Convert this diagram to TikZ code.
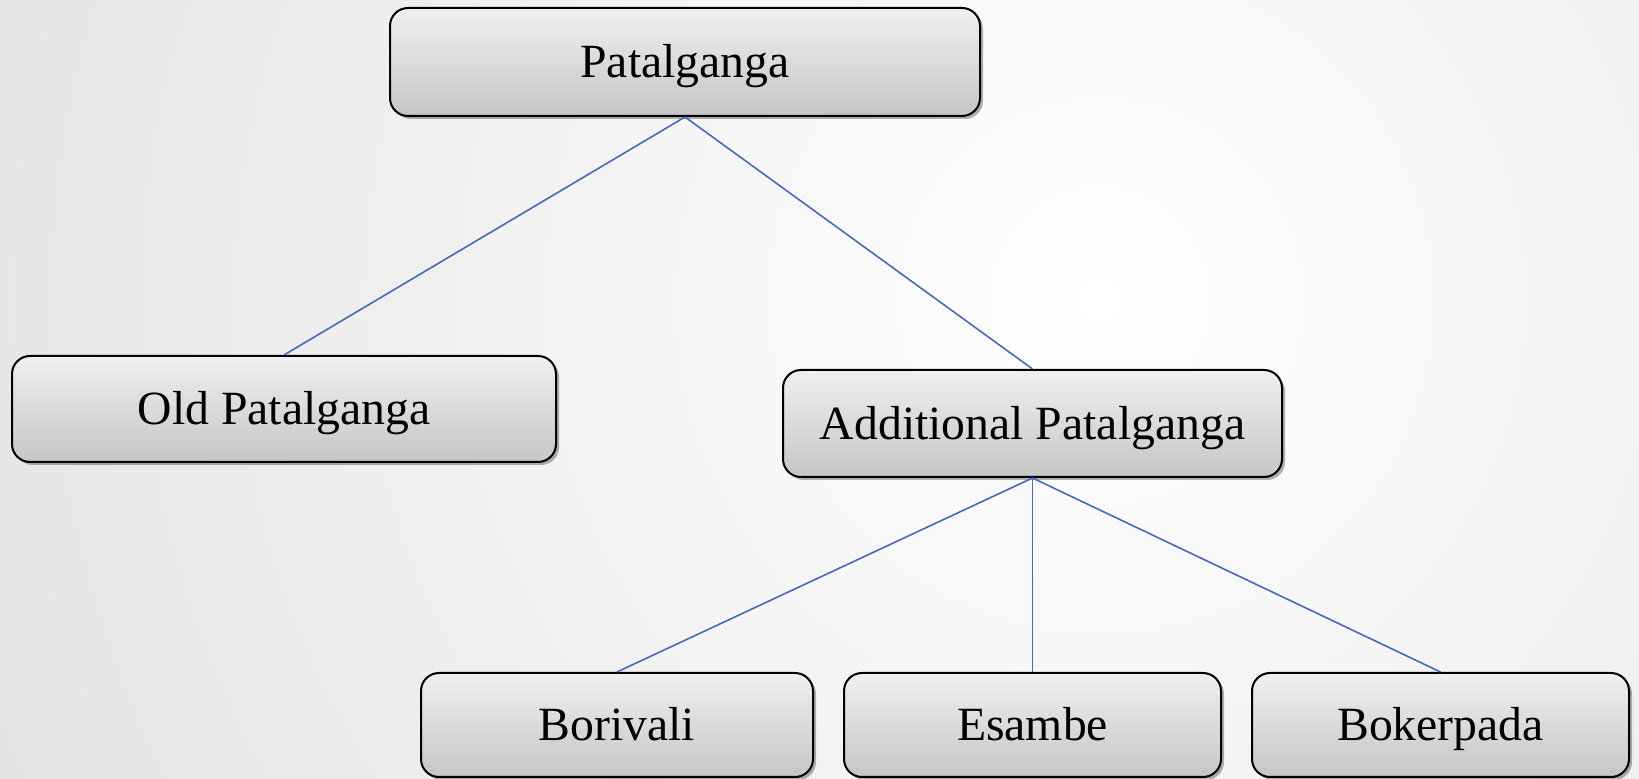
\documentclass[tikz,border=0pt]{standalone}
\usepackage{fontspec}
\setmainfont{Liberation Serif}
\usetikzlibrary{shadows}
\tikzset{
  box/.style={draw=black, line width=1pt, rounded corners=9pt,
    top color=gray!12, bottom color=gray!45, shading angle=0,
    drop shadow={shadow xshift=1.5pt, shadow yshift=-1.5pt, opacity=0.3, fill=black},
    font=\fontsize{23.85}{28}\selectfont, align=center, inner sep=0pt,
    text height=15.8pt, text depth=0pt},
  link/.style={draw={rgb,255:red,72;green,104;blue,184}, line width=0.8pt}
}
\begin{document}
\begin{tikzpicture}[x=0.5pt,y=-0.5pt]
\useasboundingbox (0,0) rectangle (1639,779);
\begin{scope}
\clip (0,0) rectangle (1639,779);
\shade[inner color=white, outer color=gray!22] (1100,300) circle (1250);
\end{scope}
\node[box, minimum width=295pt, minimum height=54pt] (root) at (685,62) {Patalganga};
\node[box, minimum width=272pt, minimum height=53pt] (old) at (284,409) {Old Patalganga};
\node[box, minimum width=249.5pt, minimum height=53.5pt] (add) at (1032.5,423.5) {Additional Patalganga};
\node[box, minimum width=196pt, minimum height=52pt] (bor) at (617,725) {Borivali};
\node[box, minimum width=188.5pt, minimum height=52pt] (esa) at (1032.5,725) {Esambe};
\node[box, minimum width=188.5pt, minimum height=52pt] (bok) at (1440.5,725) {Bokerpada};
\draw[link] (root.south) -- (old.north);
\draw[link] (root.south) -- (add.north);
\draw[link] (add.south) -- (bor.north);
\draw[link] (add.south) -- (esa.north);
\draw[link] (add.south) -- (bok.north);
\end{tikzpicture}
\end{document}
